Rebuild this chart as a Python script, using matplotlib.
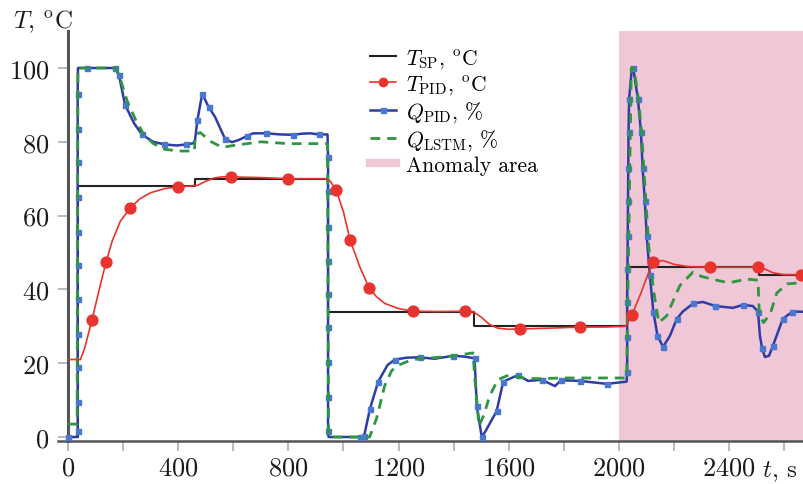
import numpy as np
import matplotlib
matplotlib.use("Agg")
import matplotlib.pyplot as plt
from matplotlib.lines import Line2D

plt.rcParams["font.family"] = "cmr10"
plt.rcParams["mathtext.fontset"] = "cm"
plt.rcParams["axes.formatter.use_mathtext"] = True

# Setpoint (step changes)
tsp_t = [0, 35, 461, 944, 1475, 2030, 2508, 2700]
tsp_y = [0, 68, 70, 34, 30, 46, 44, 44]

# PID temperature response
tpid = [(0, 21), (45, 21), (60, 24), (87, 31.7), (110, 39), (138, 47.4), (160, 53),
        (190, 58.5), (225, 62), (260, 64.5), (300, 66.2), (350, 67.3), (400, 67.8),
        (440, 68), (470, 68.2), (500, 69.3), (530, 70.2), (560, 70.5), (592, 70.5),
        (700, 70.3), (800, 70), (935, 70), (950, 69.5), (973, 67), (1000, 61),
        (1024, 53.4), (1060, 46), (1093, 40.4), (1120, 38), (1150, 36.2), (1200, 34.8),
        (1252, 34.1), (1350, 34), (1441, 34.1), (1470, 34), (1500, 32.5), (1530, 30.5),
        (1560, 29.5), (1600, 29.2), (1641, 29.3), (1750, 29.5), (1858, 29.8),
        (1950, 29.8), (2025, 30), (2047, 33), (2080, 39), (2123, 47.5), (2160, 47.8),
        (2200, 46.8), (2250, 46.2), (2330, 46), (2420, 46), (2504, 46), (2530, 45.5),
        (2560, 44.5), (2600, 44), (2660, 44), (2700, 44)]
tpid_marker_t = [87, 138, 225, 400, 592, 800, 973, 1024, 1093, 1252, 1441, 1641,
                 1858, 2047, 2123, 2330, 2504, 2660]

# PID control signal
qpid = [(0, 0), (33, 0), (35, 1.6), (35, 9.6), (35, 19), (35, 28), (35, 37.4),
        (35, 46.5), (35, 55.6), (35, 65), (35, 74.5), (35, 83.5), (35, 93), (36, 100),
        (70, 100), (170, 100), (185, 98), (207, 90),
        (240, 85), (268, 82), (309, 80), (350, 79.3), (395, 79), (430, 79.3),
        (455, 79.6), (461, 80.5), (470, 86), (487, 93), (510, 89.5), (534, 86.7),
        (570, 80.8), (595, 79.9), (620, 80.5), (650, 81.6), (672, 82.3), (720, 82.3),
        (770, 82), (817, 81.9), (850, 82.2), (879, 82.3), (910, 82), (942, 82),
        (944, 76), (944, 66.7), (944, 57), (944, 47.7), (944, 38.8), (944, 29.8),
        (944, 20.3), (944, 10.8), (944, 1.6),
        (946, 0), (1060, 0), (1075, 0.3), (1096, 7.6), (1126, 15), (1160, 19.5),
        (1187, 21), (1230, 21.5), (1278, 21.6), (1330, 21.2), (1398, 22), (1440, 21.8),
        (1476, 21.3), (1484, 8.4), (1502, 0), (1515, 1.5), (1556, 7), (1580, 15),
        (1634, 16.8), (1670, 15.2), (1720, 15.5), (1768, 13.8), (1790, 15.4),
        (1858, 15.2), (1956, 14.4), (2028, 15), (2030, 17.6), (2030, 27), (2030, 36.6),
        (2031, 45.5), (2032, 54.5), (2033, 64), (2034, 73), (2035, 82.7), (2037, 91.6),
        (2047, 100), (2052, 100), (2069, 91.6), (2080, 82.7), (2086, 73), (2094, 64),
        (2101, 54.5), (2112, 44), (2125, 34), (2140, 27.5), (2160, 24.4), (2185, 27.4),
        (2210, 32), (2232, 34), (2270, 36.2), (2305, 36.6), (2350, 35.5), (2414, 35),
        (2450, 35.8), (2486, 35.5), (2505, 34), (2512, 27.4), (2520, 24), (2530, 21.7),
        (2545, 22), (2559, 24.7), (2595, 32), (2630, 34), (2700, 33.9)]

# LSTM control signal
qlstm = [(0, 3.5), (33, 3.5), (36, 100), (175, 100), (190, 97), (215, 91), (245, 86),
         (275, 82), (310, 79.5), (350, 78), (400, 77.5), (459, 77.5), (462, 82),
         (480, 82.5), (520, 80), (560, 78.5), (600, 79), (700, 80), (800, 79.5),
         (900, 79.5), (942, 79.5), (946, 0), (1095, 0), (1120, 5), (1150, 14),
         (1175, 18), (1200, 19.5), (1250, 21), (1330, 21.5), (1400, 22), (1470, 22.8),
         (1478, 15), (1492, 3), (1510, 6), (1530, 11), (1560, 15.5), (1600, 16.8),
         (1650, 16), (1700, 15.8), (1800, 16), (1900, 16), (2000, 16), (2028, 16),
         (2045, 100), (2055, 100), (2072, 91), (2083, 82), (2098, 64), (2108, 52),
         (2125, 40), (2145, 31), (2173, 32.8), (2221, 41), (2269, 44.7), (2300, 43.5),
         (2366, 42.3), (2400, 41.8), (2464, 42.8), (2505, 42.5), (2510, 33), (2525, 31),
         (2550, 33.5), (2573, 39), (2610, 41.5), (2700, 42)]

anomaly_start = 2000

tpid_t, tpid_y = np.array(tpid).T
qpid_t, qpid_y = np.array(qpid).T
qlstm_t, qlstm_y = np.array(qlstm).T
tpid_mk = [list(tpid_t).index(v) for v in tpid_marker_t]

pink = "#efc7d6"
red = "#e8332f"
blue = "#2e3ca6"
blue_mk = "#4a78d0"
green = "#2e9640"

fig = plt.figure(figsize=(8.04, 4.85), dpi=100)
ax = fig.add_axes([58.4 / 804, 43.3 / 485, 745.6 / 804, 409.6 / 485])

ax.axvspan(anomaly_start, 2800, color=pink, lw=0, zorder=0)
ax.step(tsp_t, tsp_y, where="post", color="#222222", lw=1.5, zorder=2)
ax.plot(qpid_t, qpid_y, color=blue, lw=1.8, marker="s", ms=3.6, mfc=blue_mk,
        mec=blue_mk, markevery=0.03, zorder=3)
ax.plot(qlstm_t, qlstm_y, color=green, lw=2.0, ls=(0, (3.5, 2.5)), zorder=4)
ax.plot(tpid_t, tpid_y, color=red, lw=1.2, marker="o", ms=7.8, mfc=red, mec=red,
        markevery=tpid_mk, zorder=5)

ax.set_xlim(-35, 2672)
ax.set_ylim(-1, 110)
for s in ["top", "right"]:
    ax.spines[s].set_visible(False)
ax.spines["left"].set_position(("data", 0))
ax.spines["left"].set_color("#555555")
ax.spines["left"].set_linewidth(2.2)
ax.spines["bottom"].set_color("#555555")
ax.spines["bottom"].set_linewidth(1.8)

ax.set_xticks(range(0, 2700, 400))
ax.set_xticks(range(200, 2700, 400), minor=True)
ax.set_yticks(range(0, 101, 20))
ax.tick_params(axis="both", which="both", color="#a8afbd", width=1.2, length=7,
               labelsize=19, labelcolor="#1a1a1a")
ax.tick_params(axis="y", pad=6.5)
ax.tick_params(axis="x", pad=4)

fig.text(13 / 804, 1 - 28 / 485, r"$T$, $^{\rm o}$C", fontsize=18, va="baseline",
         color="#1a1a1a")
fig.text(762 / 804, 1 - 477 / 485, r"$t$, s", fontsize=18, va="baseline",
         color="#1a1a1a")

handles = [
    Line2D([], [], color="#222222", lw=1.5),
    Line2D([], [], color=red, lw=1.2, marker="o", ms=6, mfc=red, mec=red),
    Line2D([], [], color=blue, lw=1.8, marker="s", ms=3.6, mfc=blue_mk, mec=blue_mk),
    Line2D([], [], color=green, lw=2.0, ls=(0, (3.5, 2.5))),
    Line2D([], [], color=pink, lw=6),
]
labels = [r"$T_{\rm SP}$, $^{\rm o}$C", r"$T_{\rm PID}$, $^{\rm o}$C",
          r"$Q_{\rm PID}$, %", r"$Q_{\rm LSTM}$, %", "Anomaly area"]
fig.legend(handles, labels, loc="upper left", bbox_to_anchor=(370 / 804, 1 - 48 / 485),
           frameon=False, fontsize=15.5, handlelength=1.2, handletextpad=0.45,
           labelspacing=0.15, borderpad=0, borderaxespad=0, numpoints=1)

fig.savefig("out.png", dpi=100)
